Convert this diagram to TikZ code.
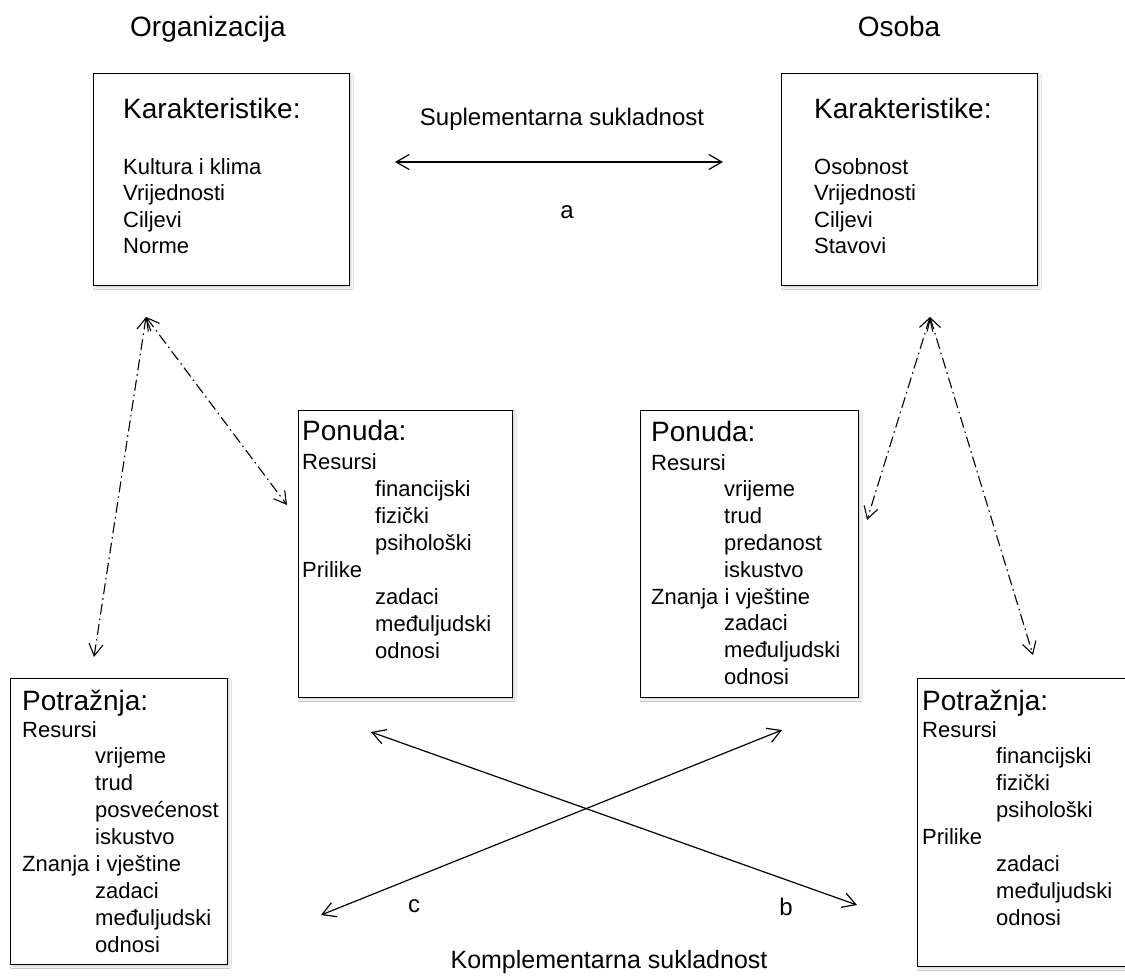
\documentclass[tikz,border=0pt]{standalone}
\usepackage{fontspec}
\setmainfont{Liberation Sans}
\usetikzlibrary{arrows.meta,shadows.blur}
\begin{document}
\begin{tikzpicture}[x=1pt,y=-1pt,
  box/.style={draw, line width=1.3pt, fill=white, rectangle, inner sep=0pt, anchor=north west,
    blur shadow={shadow xshift=1.5pt, shadow yshift=-2pt, shadow blur steps=4, shadow opacity=18, shadow blur radius=2pt}},
  hd/.style={font=\fontsize{28}{34}\selectfont, inner sep=0pt, anchor=base west},
  it/.style={font=\fontsize{22}{27}\selectfont, inner sep=0pt, anchor=base west},
  lab/.style={font=\fontsize{24}{29}\selectfont, inner sep=0pt, anchor=base},
  ttl/.style={font=\fontsize{28}{34}\selectfont, inner sep=0pt, anchor=base},
  arr/.style={line width=1.2pt, {Straight Barb[length=13pt,width=15pt,line width=1.2pt]}-{Straight Barb[length=13pt,width=15pt,line width=1.2pt]}},
  dd/.style={line width=1.1pt, dash pattern=on 11pt off 4pt on 1.6pt off 4pt,
    {Straight Barb[length=12pt,width=14pt,line width=1.1pt]}-{Straight Barb[length=12pt,width=14pt,line width=1.1pt]}}
]
\useasboundingbox[fill=white] (0,0) rectangle (1125,977);

% titles
\node[ttl] (torg) at (208,36) {Organizacija};
\node[ttl] (toso) at (899,36) {Osoba};

% boxes
\node[box, minimum width=256pt, minimum height=212pt] (k1) at (93,73) {};
\node[box, minimum width=256pt, minimum height=212pt] (k2) at (781,73) {};
\node[box, minimum width=214pt, minimum height=287pt] (p1) at (298,410) {};
\node[box, minimum width=218pt, minimum height=287pt] (p2) at (640,410) {};
\node[box, minimum width=217pt, minimum height=286pt] (d1) at (10,678) {};
\node[box, minimum width=225pt, minimum height=288pt] (d2) at (917,678) {};

% Karakteristike (organizacija)
\node[hd] (k1h) at (123,118) {Karakteristike:};
\foreach \t [count=\i] in {Kultura i klima,Vrijednosti,Ciljevi,Norme}
  \node[it] (k1-\i) at (123,{174+26.6*(\i-1)}) {\t};

% Karakteristike (osoba)
\node[hd] (k2h) at (814,118) {Karakteristike:};
\foreach \t [count=\i] in {Osobnost,Vrijednosti,Ciljevi,Stavovi}
  \node[it] (k2-\i) at (814,{174+26.6*(\i-1)}) {\t};

% Ponuda (organizacija)
\node[hd] (p1h) at (302,440) {Ponuda:};
\foreach \d/\t [count=\i] in {0/Resursi,1/financijski,1/fizički,1/psihološki,0/Prilike,1/zadaci,1/međuljudski,1/odnosi}
  \node[it] (p1-\i) at ({302+73*\d},{469+27*(\i-1)}) {\t};

% Ponuda (osoba)
\node[hd] (p2h) at (651,441) {Ponuda:};
\foreach \d/\t [count=\i] in {0/Resursi,1/vrijeme,1/trud,1/predanost,1/iskustvo,0/Znanja i vještine,1/zadaci,1/međuljudski,1/odnosi}
  \node[it] (p2-\i) at ({651+73*\d},{470+26.8*(\i-1)}) {\t};

% Potraznja (organizacija)
\node[hd] (d1h) at (22,710) {Potražnja:};
\foreach \d/\t [count=\i] in {0/Resursi,1/vrijeme,1/trud,1/posvećenost,1/iskustvo,0/Znanja i vještine,1/zadaci,1/međuljudski,1/odnosi}
  \node[it] (d1-\i) at ({22+73*\d},{737+26.9*(\i-1)}) {\t};

% Potraznja (osoba)
\node[hd] (d2h) at (922,710) {Potražnja:};
\foreach \d/\t [count=\i] in {0/Resursi,1/financijski,1/fizički,1/psihološki,0/Prilike,1/zadaci,1/međuljudski,1/odnosi}
  \node[it] (d2-\i) at ({922+74*\d},{737+26.9*(\i-1)}) {\t};

% labels
\node[lab] (sup) at (562,125) {Suplementarna sukladnost};
\node[lab] (la) at (567,218) {a};
\node[lab, font=\fontsize{25}{30}\selectfont] (kom) at (609,968) {Komplementarna sukladnost};
\node[lab] (lc) at (414,912) {c};
\node[lab] (lb) at (786,915) {b};

% connector end points
\coordinate (aL) at (395,162);
\coordinate (aR) at (723,162);
\coordinate (apL) at (146,317);
\coordinate (apLd) at (94,657);
\coordinate (apLp) at (287,505);
\coordinate (apR) at (930,317);
\coordinate (apRp) at (867,520);
\coordinate (apRd) at (1033,655);
\coordinate (bS) at (371,732);
\coordinate (bE) at (857,905);
\coordinate (cS) at (782,730);
\coordinate (cE) at (321,915);

% connectors
\draw[arr] (aL) -- (aR);
\draw[dd] (apL) -- (apLd);
\draw[dd] (apL) -- (apLp);
\draw[dd] (apR) -- (apRp);
\draw[dd] (apR) -- (apRd);
\draw[arr] (bS) -- (bE);
\draw[arr] (cS) -- (cE);
\end{tikzpicture}
\end{document}
